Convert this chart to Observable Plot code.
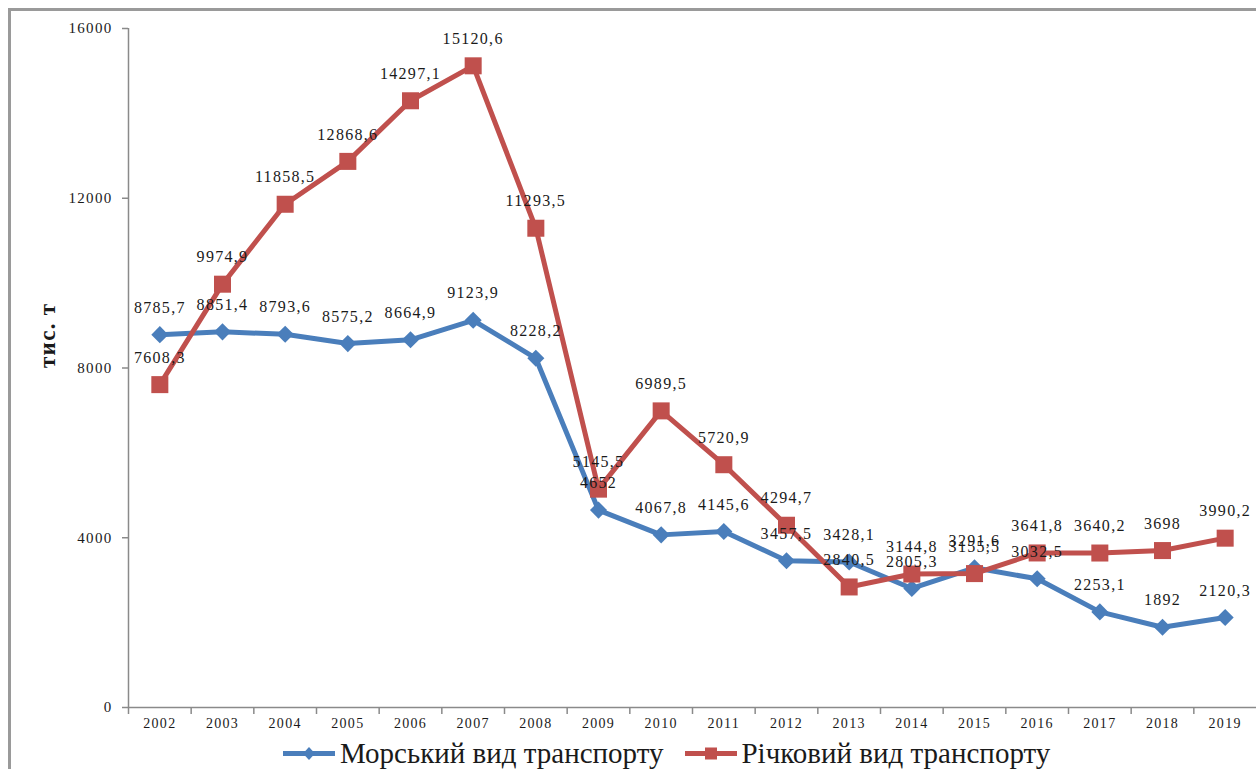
<!DOCTYPE html>
<html>
<head>
<meta charset="utf-8">
<script src="https://cdn.jsdelivr.net/npm/d3@7"></script>
<script src="https://cdn.jsdelivr.net/npm/@observablehq/plot@0.6"></script>
<style>
  html, body { margin: 0; padding: 0; background: #fff; }
  #wrap { position: relative; width: 1256px; height: 769px; overflow: hidden; font-family: "Liberation Serif", "Times New Roman", serif; }
  #border { position: absolute; left: 8px; top: 8px; width: 1300px; height: 800px; border-left: 3px solid #9a9a9a; border-top: 3px solid #9a9a9a; box-sizing: border-box; pointer-events: none; }
  #chart svg text { letter-spacing: 1.3px; }
  #chart svg text.ytitle { letter-spacing: 0.5px; }
  #legend { position: absolute; left: 283px; top: 737px; height: 32px; display: flex; align-items: center; font-size: 29px; line-height: 32px; color: #1a1a1a; white-space: nowrap; }
  #legend .item { display: flex; align-items: center; }
  #legend svg { display: block; }
</style>
</head>
<body>
<div id="wrap">
  <div id="chart"></div>
  <div id="legend"></div>
  <div id="border"></div>
</div>
<script>
// Freight carried by water transport, thousand tonnes
const years = ["2002","2003","2004","2005","2006","2007","2008","2009","2010",
               "2011","2012","2013","2014","2015","2016","2017","2018","2019"];
const seaValues = [8785.7, 8851.4, 8793.6, 8575.2, 8664.9, 9123.9, 8228.2, 4652, 4067.8,
                   4145.6, 3457.5, 3428.1, 2805.3, 3291.6, 3032.5, 2253.1, 1892, 2120.3];
const riverValues = [7608.3, 9974.9, 11858.5, 12868.6, 14297.1, 15120.6, 11293.5, 5145.5, 6989.5,
                     5720.9, 4294.7, 2840.5, 3144.8, 3155.5, 3641.8, 3640.2, 3698, 3990.2];
const seriesNames = ["Морський вид транспорту", "Річковий вид транспорту"];
const yTicks = [0, 4000, 8000, 12000, 16000];
const yTitle = "тис. т";

const blue = "#4a7ebb";
const red = "#c0504d";
const axisGray = "#8a8a8a";

const sea = years.map((year, i) => ({year, value: seaValues[i]}));
const river = years.map((year, i) => ({year, value: riverValues[i]}));
const fmt = v => String(v).replace(".", ",");

const width = 1256, marginLeft = 128, marginRight = 0;
const halfStep = (width - marginLeft - marginRight) / years.length / 2;

const chart = Plot.plot({
  width,
  height: 737,
  marginLeft,
  marginRight,
  marginTop: 28,
  marginBottom: 30,
  style: {fontFamily: "Liberation Serif, Times New Roman, serif", background: "#fff", color: "#1a1a1a"},
  x: {type: "point", domain: years, padding: 0.5, round: false},
  y: {domain: [0, 16000]},
  marks: [
    // axis lines
    Plot.ruleY([0], {stroke: axisGray, strokeWidth: 1.5}),
    Plot.ruleX([years[0]], {y1: 0, y2: 16000, dx: -halfStep, stroke: axisGray, strokeWidth: 1.5}),
    Plot.axisY({ticks: yTicks, tickSize: 6, tickPadding: 10, tickFormat: d => String(d),
                fontSize: 15, stroke: axisGray, strokeWidth: 1.5, fill: "#1a1a1a", label: null}),
    // category boundary ticks
    Plot.axisX({tickSize: 7, dx: -halfStep, tickFormat: () => "", stroke: axisGray, strokeWidth: 1.5, label: null}),
    Plot.axisX({tickSize: 0, tickPadding: 11, fontSize: 14, fill: "#1a1a1a", label: null}),
    Plot.text([yTitle], {frameAnchor: "left", dx: -81, rotate: -90, fontSize: 23, fontWeight: "bold",
                         fill: "#1a1a1a", className: "ytitle"}),
    // sea transport
    Plot.line(sea, {x: "year", y: "value", stroke: blue, strokeWidth: 5, strokeLinejoin: "round"}),
    Plot.dot(sea, {x: "year", y: "value", symbol: "diamond2", r: 7.7, fill: blue, stroke: "none"}),
    // river transport
    Plot.line(river, {x: "year", y: "value", stroke: red, strokeWidth: 5, strokeLinejoin: "round"}),
    Plot.dot(river, {x: "year", y: "value", symbol: "square", r: 9.6, fill: red, stroke: "none"}),
    // value labels
    Plot.text(sea, {x: "year", y: "value", text: d => fmt(d.value), dy: -27, fontSize: 16, fill: "#1a1a1a"}),
    Plot.text(river, {x: "year", y: "value", text: d => fmt(d.value), dy: -27, fontSize: 16, fill: "#1a1a1a"})
  ]
});
document.getElementById("chart").appendChild(chart);

// legend below the chart
const legend = document.getElementById("legend");
const symbolSvg = (color, shape) => {
  const marker = shape === "diamond"
    ? `<path d="M26,9 L32,15.5 L26,22 L20,15.5 Z" fill="${color}"/>`
    : `<rect x="20" y="9.5" width="12" height="12" fill="${color}"/>`;
  return `<svg width="52" height="31" viewBox="0 0 52 31"><line x1="0" y1="15.5" x2="52" y2="15.5" stroke="${color}" stroke-width="5"/>${marker}</svg>`;
};
legend.innerHTML =
  `<div class="item">${symbolSvg(blue, "diamond")}<span style="margin-left:5px">${seriesNames[0]}</span></div>` +
  `<div class="item" style="margin-left:22px">${symbolSvg(red, "square")}<span style="margin-left:4px">${seriesNames[1]}</span></div>`;
</script>
</body>
</html>
